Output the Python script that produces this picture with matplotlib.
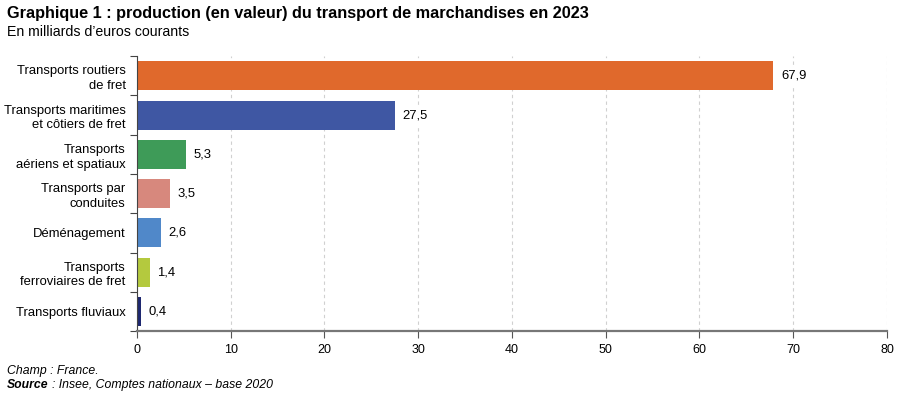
import numpy as np
import matplotlib
matplotlib.use("Agg")
import matplotlib.pyplot as plt

plt.rcParams["font.family"] = ["Liberation Sans", "DejaVu Sans"]

# -------- Data --------
categories = [
    "Transports routiers\nde fret",
    "Transports maritimes\net côtiers de fret",
    "Transports\naériens et spatiaux",
    "Transports par\nconduites",
    "Déménagement",
    "Transports\nferroviaires de fret",
    "Transports fluviaux",
]
values = [67.9, 27.5, 5.3, 3.5, 2.6, 1.4, 0.4]
labels = ["67,9", "27,5", "5,3", "3,5", "2,6", "1,4", "0,4"]
colors = ["#E0692C", "#3F57A3", "#3E9B58", "#D7887D", "#5088C9", "#B4C93E", "#1E2870"]

fig = plt.figure(figsize=(9, 3.98), dpi=100)
ax = fig.add_axes([0.152, 0.168, 0.8335, 0.691])

y = np.arange(len(categories))
ax.barh(y, values, height=0.74, color=colors, zorder=2)
ax.set_ylim(len(categories) - 0.5, -0.5)
ax.set_xlim(0, 80)

# grid
ax.set_xticks(np.arange(0, 81, 10))
ax.xaxis.grid(True, linestyle=(0, (3, 3)), color="#d0d0d0", linewidth=0.8, zorder=0)
ax.tick_params(axis="x", length=5, width=0.8, color="#555555", labelsize=9, pad=4)

# y ticks at category boundaries, labels centered on bars
ax.set_yticks(np.arange(-0.5, len(categories), 1))
ax.set_yticklabels([])
ax.set_yticks(y, minor=True)
ax.set_yticklabels(categories, minor=True, fontsize=9.4, linespacing=1.3)
ax.tick_params(axis="y", which="major", length=5, width=0.8, color="#444444")
ax.tick_params(axis="y", which="minor", length=0, pad=8)
for t in ax.get_yticklabels(minor=True):
    t.set_horizontalalignment("right")

for s in ["top", "right"]:
    ax.spines[s].set_visible(False)
ax.spines["left"].set_color("#444444")
ax.spines["left"].set_linewidth(0.8)
ax.spines["bottom"].set_color("#777777")
ax.spines["bottom"].set_linewidth(1.6)

for yi, v, lab in zip(y, values, labels):
    ax.text(v + 0.8, yi, lab, va="center", ha="left", fontsize=9.4,
            bbox=dict(facecolor="white", edgecolor="none", pad=2.5), zorder=3)

fig.text(0.008, 0.965, "Graphique 1 : production (en valeur) du transport de marchandises en 2023",
         fontsize=11.7, fontweight="bold", va="center")
fig.text(0.008, 0.920, "En milliards d’euros courants", fontsize=10.2, va="center")
fig.text(0.008, 0.068, "Champ : France.", fontsize=8.8, style="italic", va="center")
t1 = fig.text(0.008, 0.033, "Source", fontsize=8.8, style="italic", fontweight="bold", va="center")
fig.canvas.draw()
bb = t1.get_window_extent().transformed(fig.transFigure.inverted())
fig.text(bb.x1 + 0.004, 0.033, ": Insee, Comptes nationaux – base 2020", fontsize=8.8, style="italic", va="center")

fig.savefig("out.png", dpi=100)
